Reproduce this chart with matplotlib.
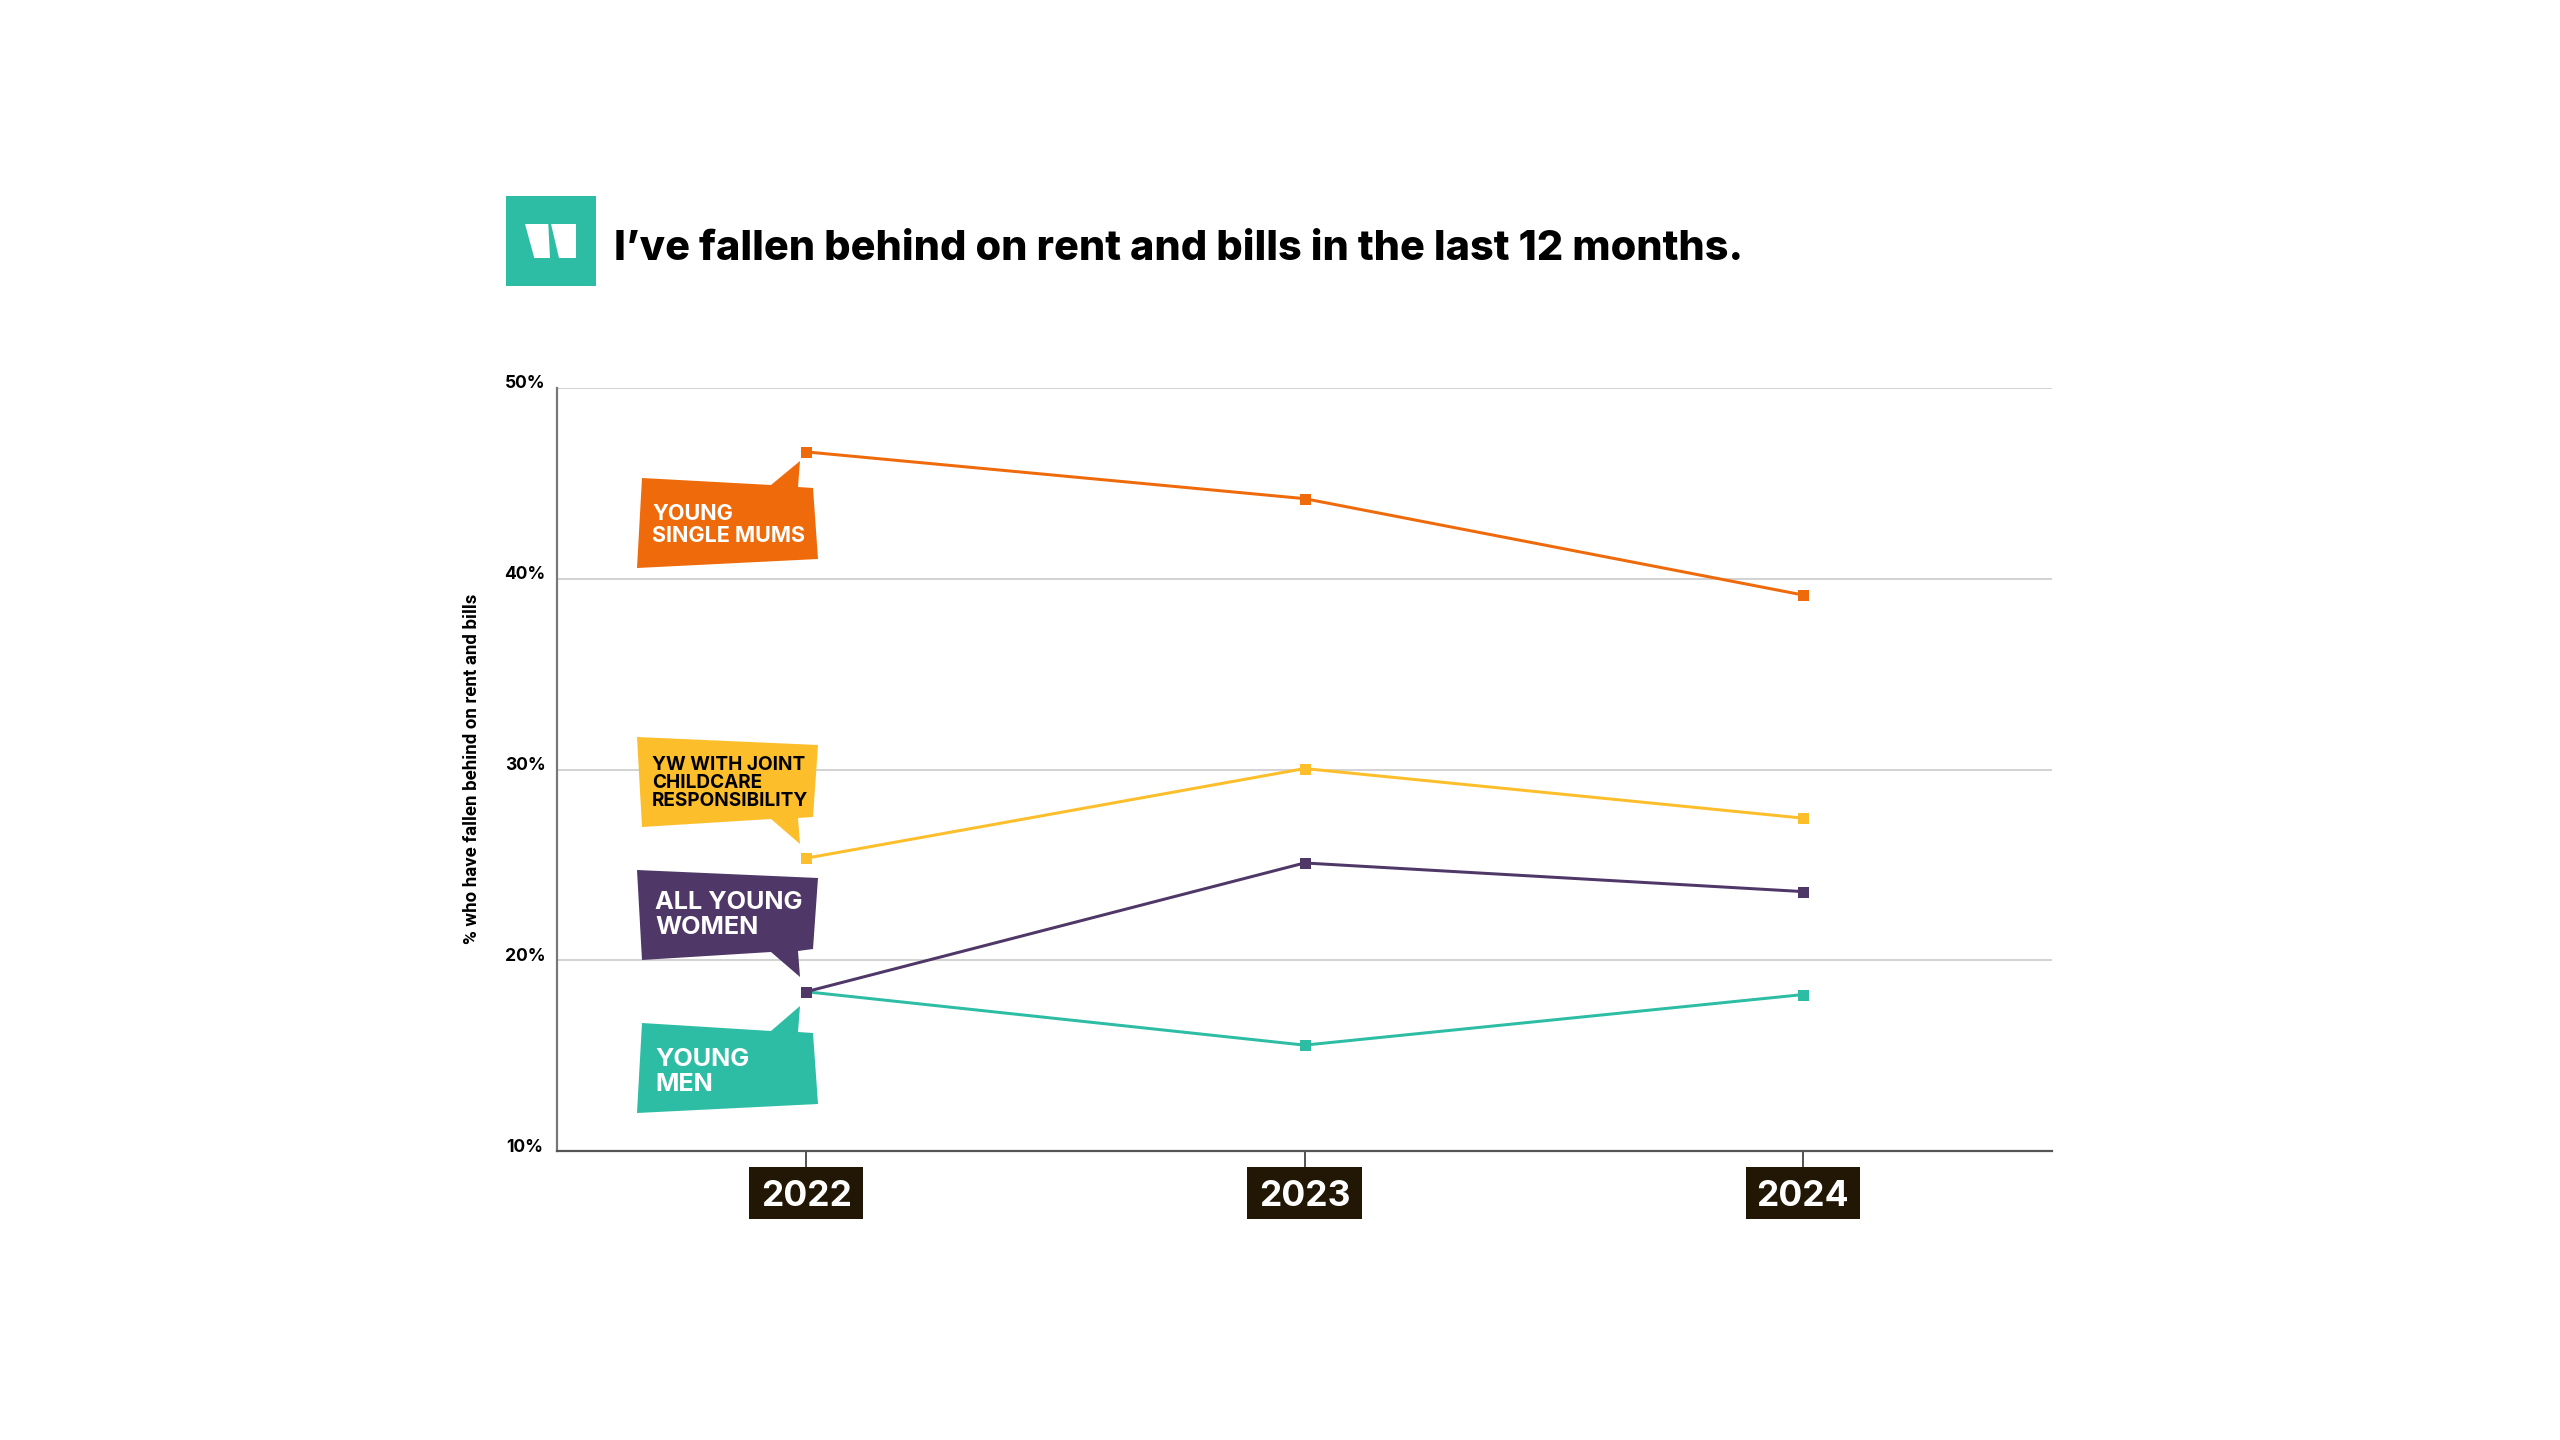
# -*- coding: utf-8 -*-
import matplotlib
matplotlib.use("Agg")
import matplotlib.pyplot as plt
from matplotlib.patches import Polygon, Rectangle
from matplotlib.transforms import ScaledTranslation

years = [2022, 2023, 2024]
single_mums = [46.65, 44.2, 39.15]
joint_care = [25.35, 30.05, 27.45]
young_men = [18.35, 15.55, 18.2]
all_women = [18.35, 25.1, 23.6]
y_ticks = [10, 20, 30, 40, 50]

ORANGE = "#EE6A0A"
YELLOW = "#FDBE2C"
PURPLE = "#4F3867"
TEAL = "#2CBDA4"
DARK = "#211704"
W, H = 2560, 1440
FONT = "Inter"


# px to pt, the figure is saved at dpi 100
def pt(px):
    return px * 0.72


fig = plt.figure(figsize=(W / 100, H / 100), dpi=100, facecolor="white")
ax = fig.add_axes([557 / W, 1 - 1151 / H, (2052 - 557) / W, (1151 - 388) / H])

ax.set_xlim(2021.5, 2024.5)
ax.set_ylim(10, 50)
ax.set_yticks(y_ticks)
ax.set_xticks(years)
ax.grid(axis="y", color="#c9c9c9", linewidth=pt(1.6))
ax.set_axisbelow(True)
ax.spines["top"].set_visible(False)
ax.spines["right"].set_visible(False)
ax.spines["left"].set_color("#777777")
ax.spines["bottom"].set_color("#555555")
ax.spines["left"].set_linewidth(pt(2.2))
ax.spines["bottom"].set_linewidth(pt(2.2))

for values, color in [(single_mums, ORANGE), (joint_care, YELLOW),
                      (young_men, TEAL), (all_women, PURPLE)]:
    ax.plot(years, values, color=color, linewidth=pt(3), marker="s",
            markersize=pt(11), markeredgewidth=0, clip_on=False, zorder=3)

# y labels sit centred in their column, a little above the gridline
ax.tick_params(axis="y", length=0, pad=pt(13))
ax.set_yticklabels([f"{v}%" for v in y_ticks], fontsize=pt(17.5),
                   fontweight="bold", family=FONT, color="black", ha="center")
lift = ScaledTranslation(-19 / 100, 6 / 100, fig.dpi_scale_trans)
for label in ax.get_yticklabels():
    label.set_transform(label.get_transform() + lift)

ax.tick_params(axis="x", length=pt(16), width=pt(2), color="#555555", pad=pt(30))
ax.set_xticklabels([str(y) for y in years], fontsize=pt(35.5), fontweight="bold",
                   family=FONT, color="white", va="center")

# dark year boxes hang under the ticks, behind the tick labels
box_w = 114 / 498.33
for year in years:
    ax.add_patch(Rectangle((year - box_w / 2, -16 / 763), box_w, -52 / 763,
                           transform=ax.get_xaxis_transform(), facecolor=DARK,
                           edgecolor="none", clip_on=False, zorder=0.2))

# overlay in reference pixels for the logo, title and callouts
ov = fig.add_axes([0, 0, 1, 1], facecolor="none")
ov.set_xlim(0, W)
ov.set_ylim(H, 0)
ov.axis("off")

ov.add_patch(Rectangle((506, 196), 90, 90, facecolor=TEAL, edgecolor="none"))
ov.add_patch(Polygon([(525, 224), (548.3, 224), (550, 258), (534.3, 258)],
                     facecolor="white", edgecolor="none"))
ov.add_patch(Polygon([(550.7, 224), (576, 224), (576, 258), (559.3, 258)],
                     facecolor="white", edgecolor="none"))

ov.text(614, 248.5, "I’ve fallen behind on rent and bills in the last 12 months.",
        fontsize=pt(41.4), fontweight="heavy", family=FONT, color="black",
        va="center", ha="left")

ov.text(472, 769, "% who have fallen behind on rent and bills", rotation=90,
        fontsize=pt(18.7), fontweight="bold", family="Roboto", color="black",
        va="center", ha="center")

# callout outlines
callouts = [
    (ORANGE, [(642, 478), (771, 485), (800, 461), (798, 487), (813, 488),
              (818, 559), (637, 568)],
     "YOUNG\nSINGLE MUMS", "white", 652, 525, 21.6, 1.13),
    (YELLOW, [(637, 737), (818, 745), (813, 817), (798, 818), (800, 844),
              (771, 819), (642, 827)],
     "YW WITH JOINT\nCHILDCARE\nRESPONSIBILITY", "black", 652, 783, 19, 1.03),
    (PURPLE, [(637, 870), (818, 878), (813, 949), (798, 951), (800, 977),
              (771, 952), (642, 960)],
     "ALL YOUNG\nWOMEN", "white", 655, 915, 25.2, 1.08),
    (TEAL, [(642, 1023), (771, 1031), (800, 1006), (798, 1032), (813, 1033),
            (818, 1104), (637, 1113)],
     "YOUNG\nMEN", "white", 655, 1072, 25.2, 1.08),
]
for color, outline, name, txt_color, tx, ty, size, spacing in callouts:
    ov.add_patch(Polygon(outline, facecolor=color, edgecolor="none"))
    ov.text(tx, ty, name, color=txt_color, fontsize=pt(size), fontweight="bold",
            family=FONT, va="center", ha="left", linespacing=spacing)

fig.savefig("out.png", dpi=100, facecolor="white")
plt.close(fig)
